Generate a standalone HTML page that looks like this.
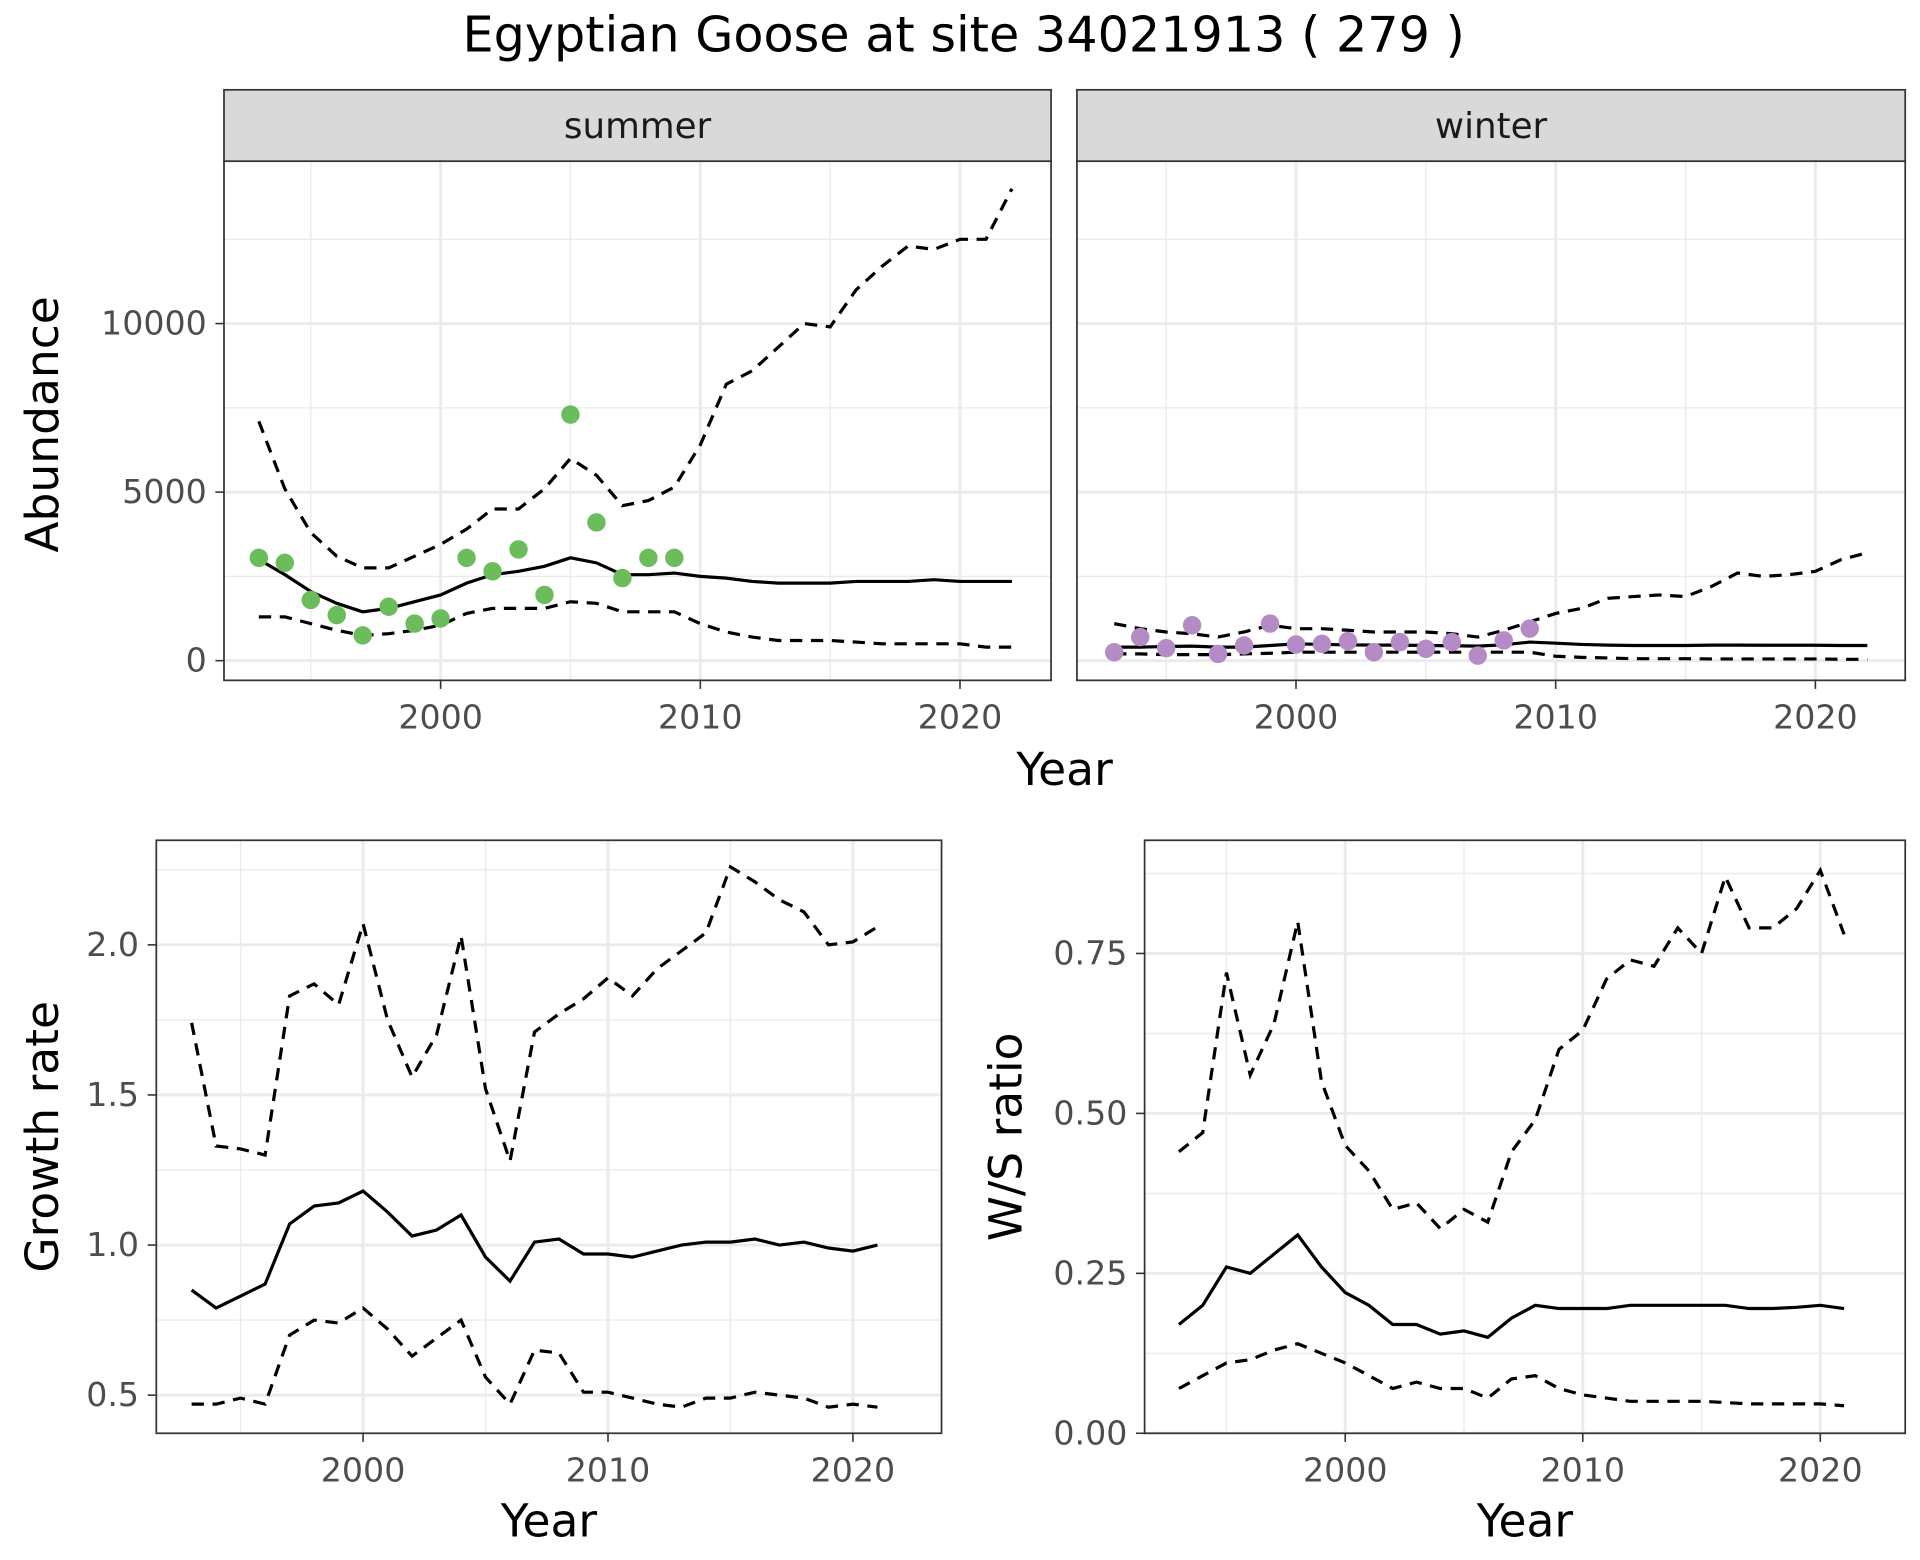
<!DOCTYPE html>
<html><head><meta charset="utf-8"><style>
html,body{margin:0;padding:0;background:#fff;}
svg{display:block;font-family:"DejaVu Sans","Liberation Sans",sans-serif;}
</style></head><body>
<svg id="chart" width="1920" height="1560" viewBox="0 0 1560 1268" preserveAspectRatio="none" xmlns="http://www.w3.org/2000/svg">
<text x="783" y="42" font-size="40" text-anchor="middle" fill="#000">Egyptian Goose at site 34021913 ( 279 )</text>
</svg>
<script>
const years = [1993,1994,1995,1996,1997,1998,1999,2000,2001,2002,2003,2004,2005,2006,2007,2008,2009,2010,2011,2012,2013,2014,2015,2016,2017,2018,2019,2020,2021,2022];
const obsYears = [1993,1994,1995,1996,1997,1998,1999,2000,2001,2002,2003,2004,2005,2006,2007,2008,2009];
const summerMid = [3000,2550,2050,1700,1450,1550,1750,1950,2300,2550,2650,2800,3050,2900,2550,2550,2600,2500,2450,2350,2300,2300,2300,2350,2350,2350,2400,2350,2350,2350];
const summerUp = [7100,5100,3800,3100,2750,2750,3100,3450,3900,4500,4500,5100,6000,5500,4600,4750,5150,6400,8200,8600,9300,10000,9900,11000,11700,12300,12200,12500,12500,14000];
const summerLo = [1300,1300,1100,900,750,800,900,1050,1400,1550,1550,1550,1750,1700,1450,1450,1450,1100,850,700,600,600,600,550,500,500,500,500,400,400];
const summerObs = [3050,2900,1800,1350,750,1600,1100,1250,3050,2650,3300,1950,7300,4100,2450,3050,3050];
const winterMid = [400,400,420,430,400,400,450,500,480,470,460,460,450,440,430,470,550,520,480,460,450,450,450,460,460,455,455,455,450,450];
const winterUp = [1100,950,850,800,700,850,1050,950,950,900,850,850,850,800,700,900,1150,1400,1550,1850,1900,1950,1900,2200,2600,2500,2550,2650,3000,3200];
const winterLo = [200,200,180,180,180,200,220,250,250,250,250,250,250,250,250,250,250,130,100,80,60,60,60,50,50,50,50,50,40,40];
const winterObs = [250,700,370,1050,200,450,1100,480,500,580,250,550,350,550,150,600,950];
const rateYears = [1993,1994,1995,1996,1997,1998,1999,2000,2001,2002,2003,2004,2005,2006,2007,2008,2009,2010,2011,2012,2013,2014,2015,2016,2017,2018,2019,2020,2021];
const growthMid = [0.85,0.79,0.83,0.87,1.07,1.13,1.14,1.18,1.11,1.03,1.05,1.10,0.96,0.88,1.01,1.02,0.97,0.97,0.96,0.98,1.00,1.01,1.01,1.02,1.00,1.01,0.99,0.98,1.00];
const growthUp = [1.74,1.33,1.32,1.30,1.83,1.87,1.80,2.07,1.75,1.56,1.70,2.03,1.52,1.28,1.71,1.77,1.82,1.89,1.83,1.92,1.98,2.04,2.26,2.21,2.15,2.11,2.00,2.01,2.06];
const growthLo = [0.47,0.47,0.49,0.47,0.70,0.75,0.74,0.79,0.72,0.63,0.69,0.75,0.56,0.47,0.65,0.64,0.51,0.51,0.49,0.47,0.46,0.49,0.49,0.51,0.50,0.49,0.46,0.47,0.46];
const ratioMid = [0.17,0.20,0.26,0.25,0.28,0.31,0.26,0.22,0.20,0.17,0.17,0.155,0.16,0.15,0.18,0.20,0.195,0.195,0.195,0.20,0.20,0.20,0.20,0.20,0.195,0.195,0.197,0.20,0.195];
const ratioUp = [0.44,0.47,0.72,0.56,0.64,0.80,0.55,0.45,0.41,0.35,0.36,0.32,0.35,0.33,0.44,0.49,0.60,0.63,0.71,0.74,0.73,0.79,0.75,0.87,0.79,0.79,0.82,0.88,0.78];
const ratioLo = [0.07,0.09,0.11,0.115,0.13,0.14,0.125,0.11,0.09,0.07,0.08,0.07,0.07,0.055,0.085,0.09,0.07,0.06,0.055,0.05,0.05,0.05,0.05,0.048,0.046,0.046,0.046,0.046,0.043];
const xTicks = [2000,2010,2020];
const xMinor = [1995,2005,2015];
const abundTicks = [0,5000,10000];
const abundMinor = [2500,7500,12500];
const growthTicks = [0.5,1.0,1.5,2.0];
const growthMinor = [0.75,1.25,1.75,2.25];
const growthLabels = ["0.5","1.0","1.5","2.0"];
const ratioTicks = [0,0.25,0.5,0.75];
const ratioMinor = [0.125,0.375,0.625,0.875];
const ratioLabels = ["0.00","0.25","0.50","0.75"];

const svg = document.getElementById('chart');
const NS = 'http://www.w3.org/2000/svg';
function mk(tag, attrs, parent){const e=document.createElementNS(NS,tag);for(const k in attrs)e.setAttribute(k,attrs[k]);(parent||svg).appendChild(e);return e;}
function lin(d0,d1,r0,r1){return v=>r0+(v-d0)*(r1-r0)/(d1-d0);}

function panel(cfg){
  const g = mk('g',{});
  
  
  const {x0,x1,y0,y1,sx,sy}=cfg;
  mk('rect',{x:x0,y:y0,width:x1-x0,height:y1-y0,fill:'#fff'},g);
  cfg.yMinor.forEach(v=>{const l=mk('line',{x1:x0,x2:x1,y1:sy(v),y2:sy(v),stroke:'#ebebeb','stroke-width':1.1},g);});
  xMinor.forEach(v=>{const l=mk('line',{x1:sx(v),x2:sx(v),y1:y0,y2:y1,stroke:'#ebebeb','stroke-width':1.1},g);});
  cfg.yTicks.forEach((v,i)=>{
    const l=mk('line',{x1:x0,x2:x1,y1:sy(v),y2:sy(v),stroke:'#ebebeb','stroke-width':2.4},g);
    
    if(cfg.yLabels){
      mk('line',{x1:x0-7,x2:x0,y1:sy(v),y2:sy(v),stroke:'#333','stroke-width':1.3},g);
      const t=mk('text',{x:x0-14,y:sy(v)+9,'font-size':27,'text-anchor':'end',fill:'#4d4d4d'},g);
      t.textContent=cfg.yLabels[i];
      
    }
  });
  xTicks.forEach(v=>{
    const l=mk('line',{x1:sx(v),x2:sx(v),y1:y0,y2:y1,stroke:'#ebebeb','stroke-width':2.4},g);
    
    mk('line',{x1:sx(v),x2:sx(v),y1:y1,y2:y1+7,stroke:'#333','stroke-width':1.3},g);
    const t=mk('text',{x:sx(v),y:y1+39,'font-size':27,'text-anchor':'middle',fill:'#4d4d4d'},g);
    t.textContent=v;
    
  });
  const line=(xs,ys,dash,nm)=>{
    const d=xs.map((x,i)=>(i?'L':'M')+sx(x).toFixed(1)+','+sy(ys[i]).toFixed(1)).join('');
    const p=mk('path',{d,fill:'none',stroke:'#000','stroke-width':2.6,'stroke-dasharray':dash?'10,7':'none'},g);
    
  };
  line(cfg.xs,cfg.up,true,'upper-bound-line');
  line(cfg.xs,cfg.lo,true,'lower-bound-line');
  line(cfg.xs,cfg.mid,false,'estimate-line');
  if(cfg.obs){
    cfg.obs.forEach((v,i)=>{
      const c=mk('ellipse',{cx:sx(obsYears[i]),cy:sy(v),rx:7.5,ry:7.5,fill:cfg.color},g);
      
    });
  }
  mk('rect',{x:x0,y:y0,width:x1-x0,height:y1-y0,fill:'none',stroke:'#333','stroke-width':1.4},g);
  if(cfg.strip){
    const s=mk('rect',{x:x0,y:73,width:x1-x0,height:y0-73,fill:'#d9d9d9',stroke:'#333','stroke-width':1.4},g);
    
    const t=mk('text',{x:(x0+x1)/2,y:112,'font-size':29,'text-anchor':'middle',fill:'#1a1a1a'},g);
    t.textContent=cfg.strip;
  }
}
const abY = lin(0,5000,537,400);
panel({name:'summer-panel',strip:'summer',x0:182,x1:854,y0:131,y1:553,sx:lin(2000,2010,358,569),sy:abY,yTicks:abundTicks,yMinor:abundMinor,yLabels:abundTicks.map(String),xs:years,mid:summerMid,up:summerUp,lo:summerLo,obs:summerObs,color:'#6abd5a'});
panel({name:'winter-panel',strip:'winter',x0:875,x1:1548,y0:131,y1:553,sx:lin(2000,2010,1053,1264),sy:abY,yTicks:abundTicks,yMinor:abundMinor,yLabels:null,xs:years,mid:winterMid,up:winterUp,lo:winterLo,obs:winterObs,color:'#b58bc6'});
panel({name:'growth-rate-panel',x0:127,x1:765,y0:683,y1:1165,sx:lin(2000,2010,295,494),sy:lin(0.5,1.0,1134,1012),yTicks:growthTicks,yMinor:growthMinor,yLabels:growthLabels,xs:rateYears,mid:growthMid,up:growthUp,lo:growthLo});
panel({name:'ws-ratio-panel',x0:930,x1:1548,y0:683,y1:1165,sx:lin(2000,2010,1093,1286),sy:lin(0,0.25,1165,1035),yTicks:ratioTicks,yMinor:ratioMinor,yLabels:ratioLabels,xs:rateYears,mid:ratioMid,up:ratioUp,lo:ratioLo});

function label(txt,x,y,rot,nm){
  const t=mk('text',{x,y,'font-size':37,'text-anchor':'middle',fill:'#000',transform:rot?`rotate(-90 ${x} ${y})`:''});
  t.textContent=txt;
}
label('Year',865,638,false,'top-x-axis-title');
label('Abundance',47,345,true,'abundance-axis-title');
label('Year',446,1249,false,'growth-x-axis-title');
label('Growth rate',47,924,true,'growth-axis-title');
label('Year',1239,1249,false,'ratio-x-axis-title');
label('W/S ratio',830,924,true,'ratio-axis-title');
</script>
</body></html>
